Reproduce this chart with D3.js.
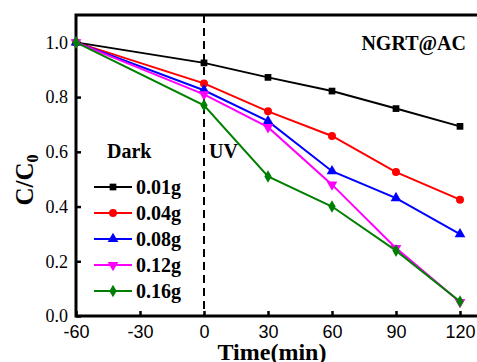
<!DOCTYPE html>
<html><head><meta charset="utf-8">
<script src="https://cdn.jsdelivr.net/npm/d3@7"></script>
<style>body{margin:0;background:#fff}svg{display:block}</style>
</head><body>
<svg id="c" width="477" height="362"></svg>
<script>
const times = [-60, 0, 30, 60, 90, 120];
const seriesNames = ["0.01g", "0.04g", "0.08g", "0.12g", "0.16g"];
const seriesColors = ["#000000", "#ff0000", "#0000ff", "#ff00ff", "#008000"];
const seriesShapes = ["square", "circle", "triangle", "triangleDown", "diamond"];
const s001 = [1.0, 0.925, 0.872, 0.822, 0.758, 0.693];
const s004 = [1.0, 0.850, 0.748, 0.658, 0.526, 0.425];
const s008 = [1.0, 0.825, 0.712, 0.529, 0.431, 0.299];
const s012 = [1.0, 0.810, 0.690, 0.480, 0.248, 0.051];
const s016 = [1.0, 0.770, 0.510, 0.400, 0.239, 0.053];
const seriesValues = [s001, s004, s008, s012, s016];
const xTicks = [-60, -30, 0, 30, 60, 90, 120];
const yTicks = [0.0, 0.2, 0.4, 0.6, 0.8, 1.0];

const svg = d3.select("#c");
const L = 76, T = 15, B = 316;
const x = d3.scaleLinear().domain([-60, 120]).range([L, 460]);
const R = x(129);
const y = d3.scaleLinear().domain([0, 1.1]).range([B, T]);
const tf = "Liberation Serif, Times New Roman, serif";

// dashed separator
svg.append("line").attr("x1", x(0)).attr("x2", x(0)).attr("y1", T).attr("y2", B)
  .attr("stroke", "#000").attr("stroke-width", 2).attr("stroke-dasharray", "8,5");

// axes
const xa = svg.append("g").attr("transform", `translate(0,${B})`)
  .call(d3.axisBottom(x).tickValues(xTicks).tickSize(-5).tickPadding(9).tickFormat(d => String(d)));
xa.select(".domain").remove();
xa.selectAll("line").attr("stroke-width", 2.5);
xa.selectAll("text").attr("font-family", "Liberation Sans, Arial, sans-serif").attr("font-size", 18).attr("fill", "#000");

const ya = svg.append("g").attr("transform", `translate(${L},0)`)
  .call(d3.axisLeft(y).tickValues(yTicks).tickSize(-5).tickPadding(8).tickFormat(d3.format(".1f")));
ya.select(".domain").remove();
ya.selectAll("line").attr("stroke-width", 2.5);
ya.selectAll("text").attr("font-family", tf).attr("font-size", 18).attr("fill", "#000");

// frame
svg.append("path").attr("d", `M${R},${T}H${L}V${B}H${R}`).attr("fill", "none")
  .attr("stroke", "#000").attr("stroke-width", 3);

const sym = {
  square: d3.symbol().type(d3.symbolSquare).size(45),
  circle: d3.symbol().type(d3.symbolCircle).size(50),
  triangle: d3.symbol().type(d3.symbolTriangle).size(50),
  triangleDown: d3.symbol().type(d3.symbolTriangle).size(50),
  diamond: d3.symbol().type(d3.symbolDiamond).size(46)
};
const line = d3.line().x(d => x(d[0])).y(d => y(d[1]));

seriesValues.forEach((vals, i) => {
  const pts = times.map((t, j) => [t, vals[j]]);
  const g = svg.append("g");
  g.append("path").attr("d", line(pts)).attr("fill", "none")
    .attr("stroke", seriesColors[i]).attr("stroke-width", 2);
  g.selectAll("path.m").data(pts).join("path").attr("class", "m")
    .attr("d", sym[seriesShapes[i]]())
    .attr("transform", d => `translate(${x(d[0])},${y(d[1])})` + (seriesShapes[i] === "triangleDown" ? " rotate(180)" : ""))
    .attr("fill", seriesColors[i]);
});

// legend
const ly0 = 187, ldy = 26;
seriesNames.forEach((n, i) => {
  const yy = ly0 + i * ldy;
  svg.append("line").attr("x1", 94).attr("x2", 132).attr("y1", yy).attr("y2", yy)
    .attr("stroke", seriesColors[i]).attr("stroke-width", 2);
  svg.append("path").attr("d", sym[seriesShapes[i]]())
    .attr("transform", `translate(113,${yy})` + (seriesShapes[i] === "triangleDown" ? " rotate(180)" : ""))
    .attr("fill", seriesColors[i]);
  svg.append("text").attr("x", 136).attr("y", yy + 7).text(n)
    .attr("font-family", tf).attr("font-weight", "bold")
    .attr("font-size", 20).attr("fill", "#000");
});

svg.append("text").attr("x", 107).attr("y", 158).text("Dark").attr("font-family", tf)
  .attr("font-weight", "bold").attr("font-size", 20);
svg.append("text").attr("x", 209).attr("y", 158).text("UV").attr("font-family", tf)
  .attr("font-weight", "bold").attr("font-size", 20);
svg.append("text").attr("x", 466).attr("y", 50).attr("text-anchor", "end").text("NGRT@AC")
  .attr("font-family", tf).attr("font-weight", "bold").attr("font-size", 20);

// axis titles
svg.append("text").attr("x", 272).attr("y", 360).attr("text-anchor", "middle").text("Time(min)")
  .attr("font-family", tf).attr("font-weight", "bold").attr("font-size", 24);
const yt = svg.append("text").attr("transform", "translate(33,180) rotate(-90)")
  .attr("text-anchor", "middle").attr("font-family", tf).attr("font-weight", "bold").attr("font-size", 25);
yt.append("tspan").text("C/C");
yt.append("tspan").text("0").attr("font-size", 16).attr("dy", 5);
</script>
</body></html>
